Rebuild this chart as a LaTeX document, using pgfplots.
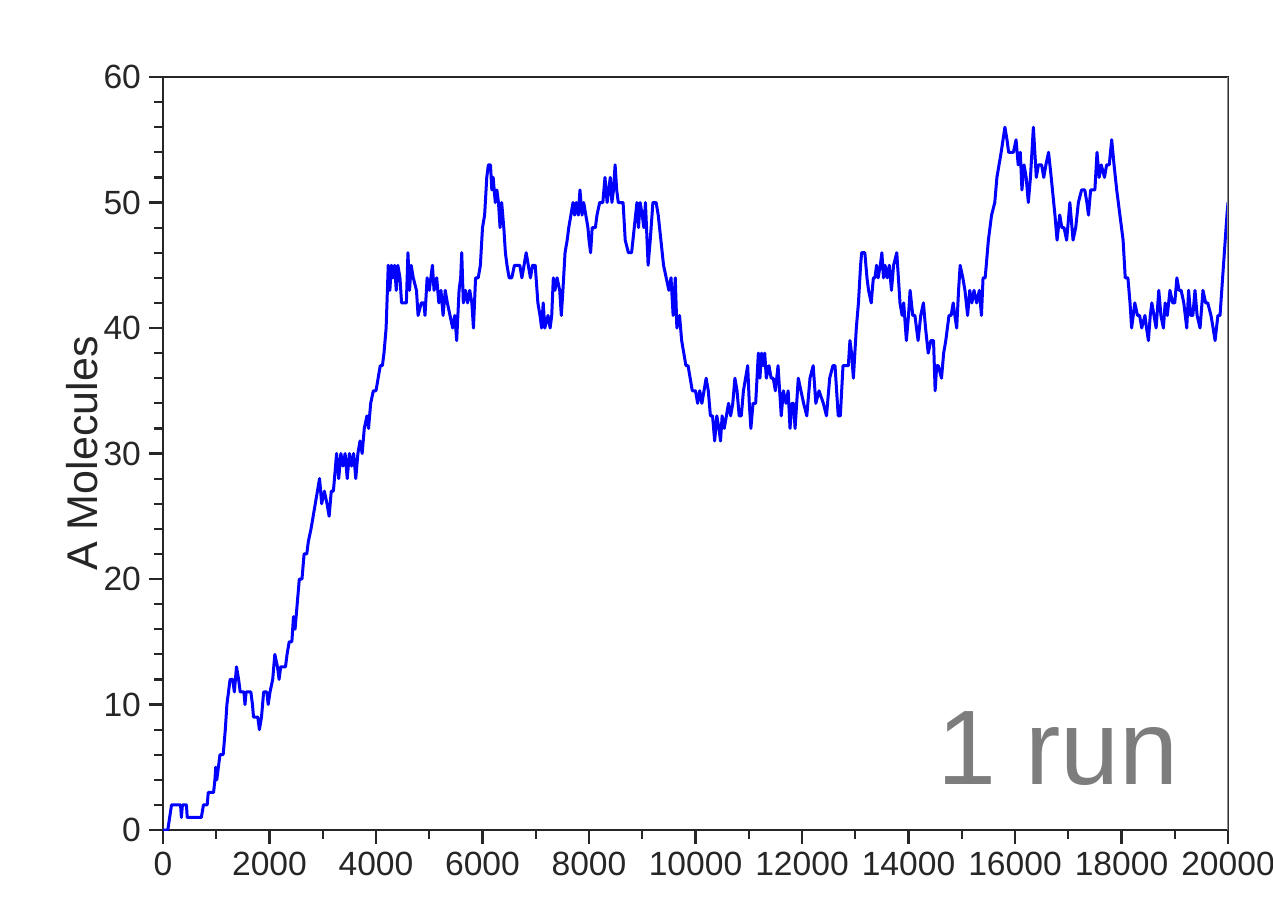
\documentclass[border=0pt]{standalone}
\usepackage{pgfplots}
\pgfplotsset{compat=1.18}
\usepackage{fontspec}
\setmainfont{Liberation Sans}
\definecolor{runblue}{RGB}{0,0,255}
\definecolor{rungray}{RGB}{125,125,125}
\begin{document}
\begin{tikzpicture}
\path[use as bounding box] (-81.5pt,-35.5pt) rectangle (555pt,415pt);
\begin{axis}[
  at={(0pt,0pt)}, anchor=south west,
  scale only axis,
  width=532.5pt, height=376.5pt,
  xmin=0, xmax=20000, ymin=0, ymax=60,
  xtick={0,2000,...,20000}, ytick={0,10,...,60},
  minor x tick num=1, minor y tick num=4,
  xtick pos=bottom, ytick pos=left,
  tick align=outside,
  major tick length=7pt, minor tick length=4.5pt,
  every tick/.style={black!85, line width=1.1pt},
  axis line style={black!85, line width=1.1pt},
  scaled x ticks=false, scaled y ticks=false,
  /pgf/number format/assume math mode=true,
  /pgf/number format/1000 sep={},
  ticklabel style={font=\fontsize{16.8}{18}\selectfont, text=black!85},
  xticklabel style={yshift=-0.5pt},
  yticklabel style={xshift=-0.5pt},
  ylabel={A Molecules},
  every axis y label/.style={at={(rel axis cs:0,0.5)}, xshift=-40.5pt, rotate=90, anchor=center, font=\fontsize{21.5}{24}\selectfont, text=black!85},
  clip=true,
]
\addplot[runblue, line width=1.5pt, line join=round] coordinates {
(0,0)(90,0)(160,2)(330,2)(345,1)(365,2)(440,2)(455,1)(720,1)(760,2)(830,2)(850,3)(950,3)(975,4)(990,5)(1010,4)(1040,5)(1070,6)(1130,6)(1170,8)(1200,10)(1260,12)(1310,12)(1340,11)(1380,13)(1420,12)(1450,11)(1520,11)(1540,10)(1560,11)(1650,11)(1680,10)(1700,9)(1780,9)(1810,8)(1850,9)(1890,11)(1950,11)(1975,10)(2010,11)(2060,12)(2100,14)(2150,13)(2180,12)(2210,13)(2300,13)(2330,14)(2370,15)(2420,15)(2450,17)(2480,16)(2520,18)(2560,20)(2610,20)(2650,22)(2700,22)(2730,23)(2780,24)(2820,25)(2860,26)(2900,27)(2940,28)(2980,26)(3030,27)(3080,26)(3120,25)(3160,27)(3200,27)(3240,29)(3260,30)(3300,28)(3340,30)(3380,29)(3420,30)(3460,28)(3500,30)(3540,29)(3580,30)(3620,28)(3660,30)(3700,31)(3740,30)(3780,32)(3830,33)(3860,32)(3900,34)(3950,35)(4000,35)(4040,36)(4080,37)(4120,37)(4150,38)(4190,40)(4230,45)(4260,43)(4290,45)(4320,44)(4350,45)(4380,43)(4410,45)(4450,44)(4480,42)(4570,42)(4600,46)(4630,43)(4660,45)(4700,44)(4760,43)(4790,41)(4850,42)(4900,42)(4920,41)(4960,44)(5000,43)(5060,45)(5090,43)(5140,44)(5180,42)(5220,43)(5260,41)(5300,43)(5340,42)(5390,41)(5440,40)(5480,41)(5515,39)(5560,43)(5590,44)(5610,46)(5640,42)(5680,43)(5720,42)(5760,43)(5800,42)(5830,40)(5870,44)(5920,44)(5960,45)(6000,48)(6040,49)(6080,52)(6110,53)(6150,53)(6175,51)(6200,52)(6240,50)(6270,51)(6300,50)(6330,48)(6360,50)(6400,48)(6430,46)(6460,45)(6500,44)(6550,44)(6600,45)(6700,45)(6740,44)(6780,45)(6820,46)(6860,45)(6900,44)(6940,45)(6990,45)(7040,42)(7080,41)(7110,40)(7140,42)(7170,40)(7230,41)(7270,40)(7300,41)(7330,44)(7360,43)(7400,44)(7450,43)(7480,41)(7510,43)(7550,46)(7590,47)(7620,48)(7660,49)(7700,50)(7730,49)(7760,50)(7800,49)(7830,51)(7870,49)(7900,50)(7940,49)(7980,48)(8000,47)(8030,46)(8060,48)(8120,48)(8150,49)(8200,50)(8260,50)(8300,52)(8340,50)(8370,51)(8400,52)(8430,50)(8460,51)(8490,53)(8520,51)(8550,50)(8640,50)(8680,47)(8740,46)(8800,46)(8850,48)(8900,50)(8930,48)(8960,50)(9000,49)(9030,48)(9060,50)(9110,45)(9150,47)(9200,50)(9260,50)(9300,49)(9350,47)(9400,45)(9450,44)(9500,43)(9540,44)(9580,41)(9620,44)(9650,40)(9700,41)(9740,39)(9780,38)(9820,37)(9860,37)(9900,36)(9940,35)(10000,35)(10040,34)(10080,35)(10120,34)(10160,35)(10200,36)(10240,35)(10280,33)(10320,33)(10360,31)(10400,33)(10440,32)(10470,31)(10500,33)(10540,32)(10580,33)(10620,34)(10660,33)(10700,34)(10740,36)(10780,35)(10820,33)(10860,33)(10900,35)(10940,36)(10980,37)(11010,34)(11040,32)(11080,34)(11130,34)(11180,38)(11210,36)(11240,38)(11270,37)(11300,38)(11330,36)(11380,37)(11420,36)(11460,36)(11500,35)(11550,37)(11610,33)(11650,35)(11700,34)(11740,35)(11775,32)(11810,34)(11840,34)(11870,32)(11930,36)(11980,35)(12030,34)(12090,33)(12150,36)(12210,37)(12260,34)(12320,35)(12400,34)(12460,33)(12520,36)(12580,37)(12620,37)(12680,33)(12720,33)(12770,37)(12870,37)(12900,39)(12930,38)(12965,36)(13020,40)(13060,42)(13100,45)(13120,46)(13180,46)(13220,44)(13250,43)(13300,42)(13340,44)(13370,44)(13400,45)(13430,44)(13470,45)(13500,46)(13530,44)(13560,45)(13600,44)(13640,45)(13680,43)(13720,45)(13780,46)(13810,44)(13840,42)(13880,41)(13910,42)(13960,39)(14000,41)(14030,43)(14080,41)(14120,41)(14180,39)(14230,41)(14280,42)(14320,40)(14370,38)(14420,39)(14470,39)(14500,35)(14530,37)(14560,37)(14620,36)(14660,38)(14700,39)(14760,41)(14800,41)(14840,42)(14870,41)(14905,40)(14940,43)(14970,45)(15020,44)(15060,43)(15110,41)(15150,43)(15190,42)(15230,43)(15280,42)(15330,43)(15370,41)(15400,44)(15440,44)(15500,47)(15560,49)(15620,50)(15660,52)(15700,53)(15740,54)(15810,56)(15850,55)(15880,54)(15970,54)(16020,55)(16060,53)(16100,54)(16130,51)(16170,53)(16210,52)(16250,50)(16290,52)(16345,56)(16400,52)(16440,53)(16500,53)(16540,52)(16580,53)(16630,54)(16680,52)(16750,49)(16790,47)(16840,49)(16880,48)(16920,48)(16970,47)(17030,50)(17090,47)(17140,48)(17190,50)(17250,51)(17310,51)(17350,50)(17380,49)(17420,51)(17500,51)(17540,54)(17580,52)(17620,53)(17680,52)(17720,53)(17770,53)(17816,55)(17860,53)(17910,51)(17970,49)(18030,47)(18070,44)(18120,44)(18160,42)(18190,40)(18250,42)(18300,41)(18340,41)(18380,40)(18440,41)(18470,40)(18505,39)(18540,41)(18570,42)(18610,41)(18650,40)(18700,43)(18740,41)(18787,40)(18820,42)(18860,41)(18910,43)(18960,42)(19000,42)(19040,44)(19080,43)(19120,43)(19170,42)(19225,40)(19260,43)(19300,41)(19340,41)(19380,43)(19420,41)(19475,40)(19530,43)(19580,42)(19620,42)(19680,41)(19720,40)(19757,39)(19810,41)(19850,41)(19980,49)(20000,50)
};
\draw[black!85, line width=1.1pt] (rel axis cs:0,1) -- (rel axis cs:1,1);
\draw[black!45, line width=1.1pt] (rel axis cs:1,0) -- (rel axis cs:1,1);
\node[anchor=base west, inner sep=0pt, text=rungray, font=\fontsize{53}{60}\selectfont] at (axis cs:14530,3.59) {1 run};
\end{axis}
\end{tikzpicture}
\end{document}
